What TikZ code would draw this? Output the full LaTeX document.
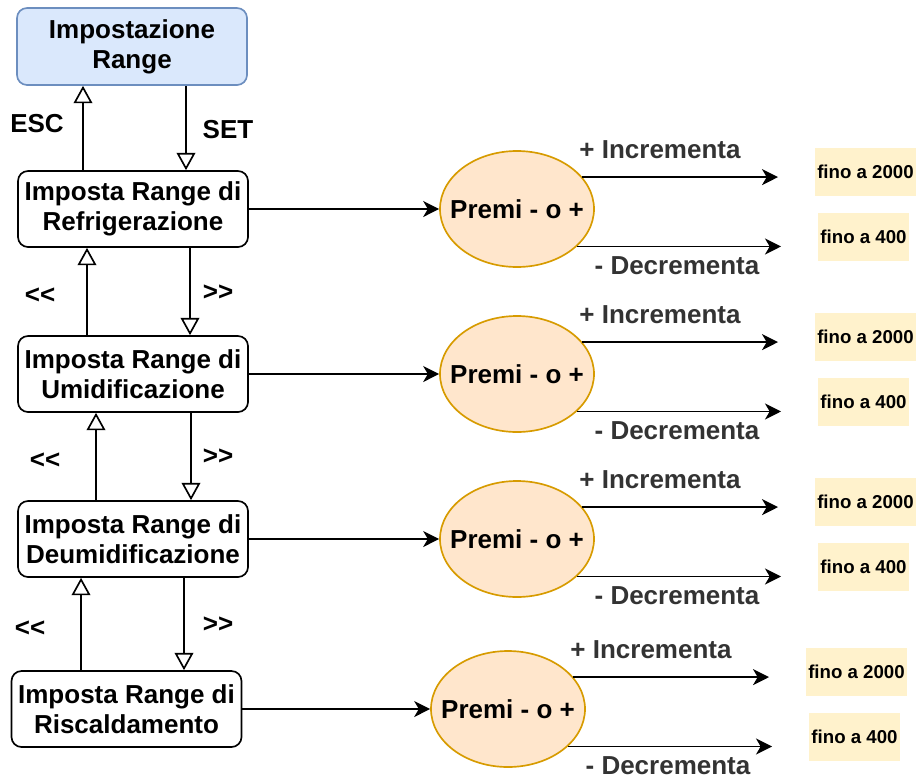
\documentclass[tikz,border=0pt]{standalone}
\usepackage{fontspec}
\setmainfont{Liberation Sans}
\usepackage{tikz}
\usetikzlibrary{
	positioning,
	arrows.meta,
	shapes.geometric
}

\definecolor{blufill}{HTML}{DAE8FC}
\definecolor{bluline}{HTML}{6C8EBF}
\definecolor{arfill}{HTML}{FFE6CC}
\definecolor{arline}{HTML}{D79B00}
\definecolor{giallo}{HTML}{FFF2CC}
\definecolor{grigio}{HTML}{333333}

\begin{document}
\begin{tikzpicture}[x=0.75pt, y=-0.75pt,
		font=\fontsize{19.5}{22.5}\selectfont\bfseries,
		line width=1.25pt,
		menu/.style={draw, rounded corners=7.5pt, align=center, inner sep=0pt,
			minimum width=172.5pt, minimum height=57pt},
		premi/.style={ellipse, draw=arline, fill=arfill, inner xsep=-12pt, inner ysep=0pt,
			minimum width=115.5pt, minimum height=87pt},
		limite/.style={fill=giallo, inner sep=0pt, minimum height=36pt,
			font=\fontsize{14}{16}\selectfont\bfseries},
		etic/.style={text=grigio},
		vuota/.style={-{Triangle[open, length=13pt, width=14pt]}},
		piena/.style={-{Stealth[length=12pt, width=12pt, inset=3.5pt]}}
	]
	\useasboundingbox (0,0) rectangle (916,782);

	\node[menu, draw=bluline, fill=blufill, minimum height=57.75pt] (range) at (132,46.5) {Impostazione\\Range};

	\foreach \i/\y/\bx/\dx/\testo in {1/209/133/0/Refrigerazione, 2/374/133/0/Umidificazione,
			3/539/133/0/Deumidificazione, 4/709/126.5/-9/Riscaldamento} {
		\node[menu] (imp\i) at (\bx,\y) {Imposta Range di\\\testo};
		\node[premi] (premi\i) at (517+\dx,\y) {Premi - o +};
		\coordinate (su\i) at (778+\dx,\y-31);
		\coordinate (giu\i) at (781+\dx,\y+36);
		\node[etic] (inc\i) at (660+\dx,\y-59) {+ Incrementa};
		\node[etic] (dec\i) at (677+\dx,\y+57) {- Decrementa};
		\node[limite, minimum width=75.75pt] (max\i) at (865.5+\dx,\y-37) {fino a 2000};
		\node[limite, minimum width=68.25pt] (min\i) at (863.5+\dx,\y+28) {fino a 400};
		\draw[piena] (imp\i) -- (premi\i);
		\draw[piena] (premi\i.26) -- (premi\i.26 -| su\i);
		\draw[piena] (premi\i.-32) -- (premi\i.-32 -| giu\i);
	}

	% ESC / SET
	\draw[vuota] ([xshift=-37.5pt]imp1.north) -- ([xshift=-37.5pt]imp1.north |- range.south);
	\draw[vuota] ([xshift=39.75pt]imp1.north |- range.south) -- ([xshift=39.75pt]imp1.north);
	\node (esc) at (37,124) {ESC};
	\node (set) at (228,130) {SET};

	% << e >>
	\draw[vuota] ([xshift=-34.5pt]imp2.north) -- ([xshift=-34.5pt]imp2.north |- imp1.south);
	\draw[vuota] ([xshift=42.75pt]imp1.south) -- ([xshift=42.75pt]imp1.south |- imp2.north);
	\draw[vuota] ([xshift=-27.75pt]imp3.north) -- ([xshift=-27.75pt]imp3.north |- imp2.south);
	\draw[vuota] ([xshift=43.5pt]imp2.south) -- ([xshift=43.5pt]imp2.south |- imp3.north);
	\draw[vuota] ([xshift=-34.1pt]imp4.north) -- ([xshift=-34.1pt]imp4.north |- imp3.south);
	\draw[vuota] ([xshift=38.25pt]imp3.south) -- ([xshift=38.25pt]imp3.south |- imp4.north);
	\node (ind1) at (40,296) {<\kern0pt<};
	\node (ava1) at (218,293) {>\kern0pt>};
	\node (ind2) at (45,461) {<\kern0pt<};
	\node (ava2) at (218,457) {>\kern0pt>};
	\node (ind3) at (30,629) {<\kern0pt<};
	\node (ava3) at (218,625) {>\kern0pt>};
\end{tikzpicture}
\end{document}
